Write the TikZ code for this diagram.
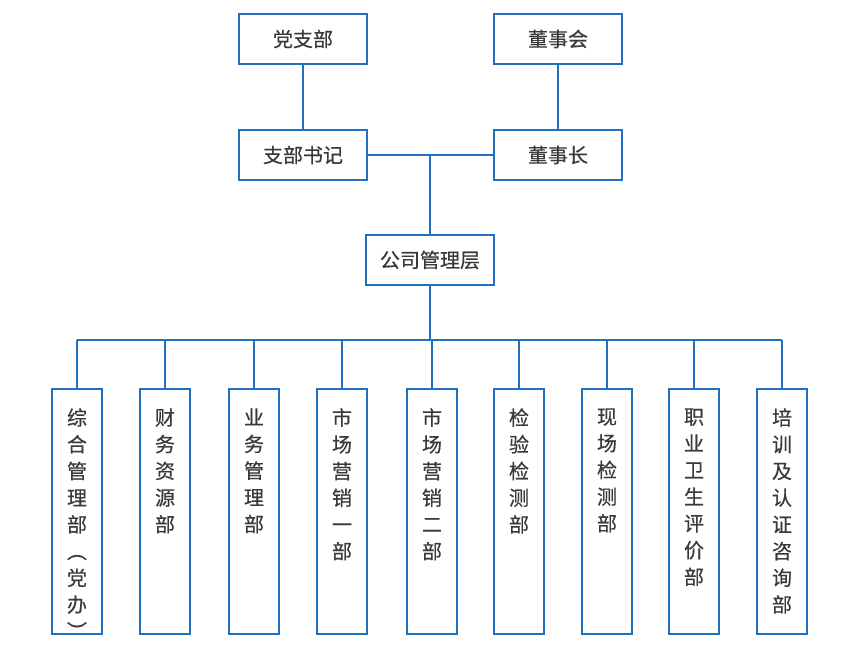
\documentclass[tikz,border=0pt]{standalone}
\usepackage{fontspec}
\setmainfont{Noto Sans CJK SC}[FakeBold=0.5]
\definecolor{lineblue}{HTML}{1F70C1}
\definecolor{txt}{HTML}{3A3A3A}
\tikzset{
  conn/.style={draw=lineblue, line width=1.8pt},
  topbox/.style={draw=lineblue, line width=1.8pt, fill=white, minimum width=128pt, minimum height=50pt, inner sep=0pt, text=txt, font=\fontsize{20}{24}\selectfont},
  deptbox/.style={draw=lineblue, line width=1.8pt, fill=white, minimum width=50pt, minimum height=245pt, inner sep=0pt},
  vtext/.style={anchor=north, inner sep=0pt, align=center, text=txt, font=\fontsize{20}{26.7}\selectfont}
}
\begin{document}
\begin{tikzpicture}[x=1pt,y=-1pt]
\useasboundingbox (0,0) rectangle (860,660);
% top level
\node[topbox] (dzb) at (303,39) {党支部};
\node[topbox] (dsh) at (558,39) {董事会};
\node[topbox] (zbsj) at (303,155) {支部书记};
\node[topbox] (dsz) at (558,155) {董事长};
\node[topbox] (gs) at (430,260) {公司管理层};
\coordinate (j) at (430,155);
\coordinate (bus) at (430,340);
\draw[conn] (dzb) -- (zbsj);
\draw[conn] (dsh) -- (dsz);
\draw[conn] (zbsj.east) -- (dsz.west);
\draw[conn] (j) -- (gs.north);
\draw[conn] (gs.south) -- (bus);
% departments
\foreach \i/\x/\t in {
  1/77/{综\\合\\管\\理\\部\\︵\\党\\办\\︶},
  2/165/{财\\务\\资\\源\\部},
  3/254/{业\\务\\管\\理\\部},
  4/342/{市\\场\\营\\销\\一\\部},
  5/432/{市\\场\\营\\销\\二\\部},
  6/519/{检\\验\\检\\测\\部},
  7/607/{现\\场\\检\\测\\部},
  8/694/{职\\业\\卫\\生\\评\\价\\部},
  9/782/{培\\训\\及\\认\\证\\咨\\询\\部}}{
  \node[deptbox] (d\i) at (\x,511.5) {};
  \node[vtext] (t\i) at ([yshift=-20pt]d\i.north) {\t};
  \draw[conn] (d\i.north) -- (d\i.north |- bus);
}
\draw[conn] (d1.north |- bus) -- (d9.north |- bus);
\end{tikzpicture}
\end{document}
